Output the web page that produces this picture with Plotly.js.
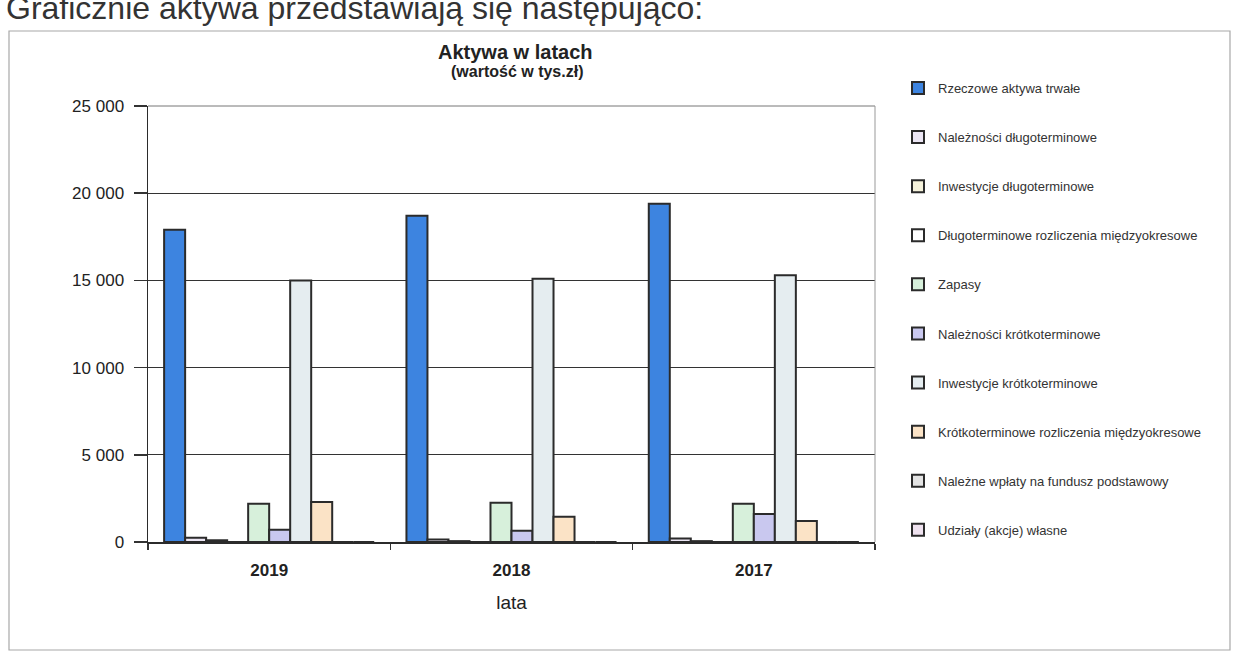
<!DOCTYPE html>
<html>
<head>
<meta charset="utf-8">
<script src="https://cdn.plot.ly/plotly-3.0.1.min.js"></script>
<style>html,body{margin:0;padding:0;background:#fff;}#chart{width:1236px;height:652px;}</style>
</head>
<body>
<div id="chart"></div>
<script>
// ---- data (values in tys. zł) ----
var years = ['2019', '2018', '2017'];
var seriesNames = [
  'Rzeczowe aktywa trwałe',
  'Należności długoterminowe',
  'Inwestycje długoterminowe',
  'Długoterminowe rozliczenia międzyokresowe',
  'Zapasy',
  'Należności krótkoterminowe',
  'Inwestycje krótkoterminowe',
  'Krótkoterminowe rozliczenia międzyokresowe',
  'Należne wpłaty na fundusz podstawowy',
  'Udziały (akcje) własne'
];
var rzeczoweAktywaTrwale = [17900, 18700, 19400];
var naleznosciDlugoterminowe = [250, 150, 200];
var inwestycjeDlugoterminowe = [100, 50, 50];
var dlugoterminoweRozliczenia = [0, 0, 0];
var zapasy = [2200, 2250, 2200];
var naleznosciKrotkoterminowe = [700, 650, 1600];
var inwestycjeKrotkoterminowe = [15000, 15100, 15300];
var krotkoterminoweRozliczenia = [2300, 1450, 1200];
var nalezneWplaty = [0, 0, 0];
var udzialyWlasne = [0, 0, 0];
var yTickVals = [0, 5000, 10000, 15000, 20000, 25000];

var seriesValues = [rzeczoweAktywaTrwale, naleznosciDlugoterminowe, inwestycjeDlugoterminowe,
  dlugoterminoweRozliczenia, zapasy, naleznosciKrotkoterminowe, inwestycjeKrotkoterminowe,
  krotkoterminoweRozliczenia, nalezneWplaty, udzialyWlasne];
var seriesColors = ['#3d84e0', '#ece6f4', '#f6f3dc', '#ffffff', '#d7f0db',
  '#c9c8ef', '#e5edf0', '#fbe3c6', '#e4e4e4', '#efe2ef'];

var traces = seriesNames.map(function (name, i) {
  return {
    type: 'bar',
    name: name,
    x: years,
    y: seriesValues[i],
    legendgroup: 'g' + i,
    marker: { color: seriesColors[i], line: { color: '#2b2b2b', width: 2 } },
    hoverinfo: 'x+y+name'
  };
});

var L = 148, R = 361, T = 106, B = 110;
var W = 1236, H = 652;
var pw = W - L - R, ph = H - T - B;
function px(x) { return (x - L) / pw; }
function py(y) { return (H - B - y) / ph; }

var layout = {
  width: W, height: H,
  margin: { l: L, r: R, t: T, b: B, pad: 0 },
  paper_bgcolor: '#ffffff',
  plot_bgcolor: '#ffffff',
  font: { family: 'Liberation Sans, Arial, sans-serif', color: '#222' },
  separators: ', ',
  barmode: 'group',
  bargap: 0.133,
  bargroupgap: 0,
  showlegend: true,
  xaxis: {
    type: 'category',
    tickson: 'boundaries',
    ticks: 'outside', ticklen: 6, tickcolor: '#333', tickwidth: 1.5,
    ticklabelstandoff: 12,
    showline: true, linecolor: '#2b2b2b', linewidth: 2,
    mirror: false,
    tickfont: { size: 17, color: '#222', family: 'Liberation Sans, Arial, sans-serif', weight: 'bold' },
    title: { text: 'lata', font: { size: 19, color: '#222' }, standoff: 16 },
    showgrid: false
  },
  yaxis: {
    range: [0, 25000],
    tickvals: yTickVals,
    tickformat: ',d',
    ticks: 'outside', ticklen: 13, tickcolor: '#333', tickwidth: 1.5,
    ticklabelstandoff: 6,
    showline: true, linecolor: '#2b2b2b', linewidth: 1.5,
    showgrid: true, gridcolor: '#333', gridwidth: 1,
    zeroline: false,
    tickfont: { size: 17, color: '#222' }
  },
  legend: {
    x: px(898), xanchor: 'left',
    y: py(73), yanchor: 'top',
    traceorder: 'grouped',
    tracegroupgap: 29.2,
    maxheight: 620,
    font: { size: 13, color: '#333' },
    bgcolor: 'rgba(0,0,0,0)',
    itemwidth: 30
  },
  shapes: [
    // outer chart frame (scanned page border)
    { type: 'rect', xref: 'paper', yref: 'paper',
      x0: px(9), x1: px(1230), y0: py(650), y1: py(31),
      line: { color: '#a8a8a8', width: 1.2 }, fillcolor: 'rgba(0,0,0,0)', layer: 'below' },
    // plot area top and right border
    { type: 'line', xref: 'paper', yref: 'paper', x0: 0, x1: 1, y0: 1, y1: 1,
      line: { color: '#777', width: 1 } },
    { type: 'line', xref: 'paper', yref: 'paper', x0: 1, x1: 1, y0: 0, y1: 1,
      line: { color: '#999', width: 1 } }
  ],
  annotations: [
    { text: 'Graficznie aktywa przedstawiają się następująco:',
      xref: 'paper', yref: 'paper', x: px(4), y: py(28),
      xanchor: 'left', yanchor: 'bottom', showarrow: false,
      font: { size: 32, color: '#333' } },
    { text: '<b>Aktywa w latach</b>',
      xref: 'paper', yref: 'paper', x: px(515), y: py(52),
      xanchor: 'center', yanchor: 'middle', showarrow: false,
      font: { size: 20, color: '#222' } },
    { text: '<b>(wartość w tys.zł)</b>',
      xref: 'paper', yref: 'paper', x: px(517), y: py(72),
      xanchor: 'center', yanchor: 'middle', showarrow: false,
      font: { size: 16, color: '#222' } }
  ]
};

Plotly.newPlot('chart', traces, layout, { displayModeBar: false, staticPlot: true });
</script>
</body>
</html>
